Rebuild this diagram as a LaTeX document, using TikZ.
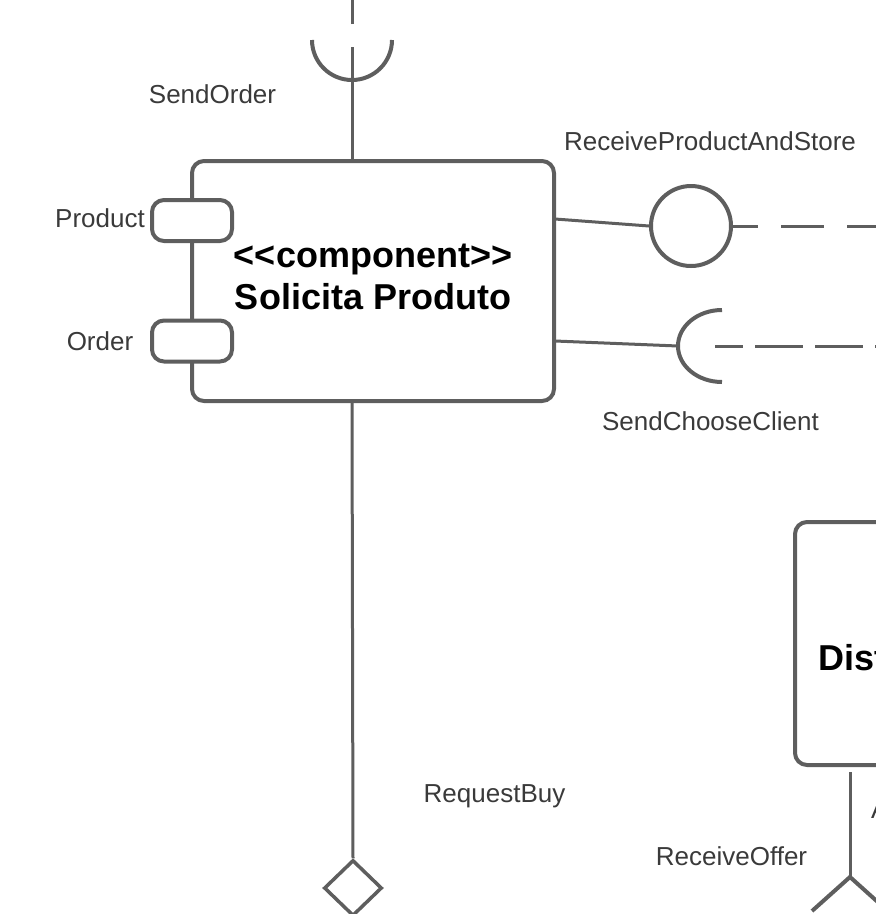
\documentclass[tikz,border=0pt]{standalone}
\usepackage{fontspec}
\setmainfont{Liberation Sans}
\usetikzlibrary{shapes.geometric}
\definecolor{lc}{HTML}{5E5E5E}
\definecolor{tc}{HTML}{3A3A3A}
\begin{document}
\begin{tikzpicture}[x=1pt,y=-1pt,
  compbox/.style={draw=lc, line width=4pt, rounded corners=12pt},
  port/.style={draw=lc, fill=white, line width=4pt, rounded corners=12pt, minimum width=80pt, minimum height=41pt, inner sep=0pt},
  conn/.style={draw=lc, line width=3pt},
  thick conn/.style={draw=lc, line width=4pt},
  dashconn/.style={draw=lc, line width=3pt, dash pattern=on 43pt off 23pt},
  lbl/.style={text=tc, font=\fontsize{26}{30}\selectfont, inner sep=0pt, anchor=base},
  ttl/.style={font=\bfseries\fontsize{36}{42}\selectfont, align=center, inner sep=0pt},
  lolli/.style={circle, draw=lc, line width=4pt, fill=white, minimum size=80pt, inner sep=0pt},
  dia/.style={diamond, draw=lc, line width=3.5pt, fill=white, minimum width=58pt, minimum height=56pt, inner sep=0pt}]
\useasboundingbox (0,0) rectangle (876,914);
\clip (0,0) rectangle (876,914);

% main component
\node[compbox, minimum width=362pt, minimum height=240pt, inner sep=0pt] (sp) at (373,281) {};
\node[ttl] (sptitle) at (373,277) {{<}{<}component{>}{>}\\Solicita Produto};

% ports
\node[port] (pprod) at (192,220.5) {};
\node[port] (pord) at (192,341) {};
\node[lbl] (lprod) at (100,227) {Product};
\node[lbl] (lord) at (100,350) {Order};

% top socket (SendOrder)
\coordinate (topIn) at (352,161);
\coordinate (topSock) at (352,47);
\coordinate (topArcL) at (312,40);
\coordinate (topDashA) at (352,24);
\coordinate (topDashB) at (352,-40);
\draw[conn] (topIn) -- (topSock);
\draw[thick conn] (topArcL) arc[start angle=180, end angle=0, radius=40];
\draw[dashconn, dash phase=19pt] (topDashA) -- (topDashB);
\node[lbl] (lso) at (212.5,103) {SendOrder};

% lollipop (ReceiveProductAndStore)
\node[lolli] (lp) at (691,226) {};
\coordinate (rp1) at (555,219);
\coordinate (rEnd1) at (890,226);
\draw[conn] (rp1) -- (lp.west);
\draw[dashconn, dash phase=18pt] (lp.east) -- (rEnd1);
\node[lbl] (lrpas) at (710,150) {ReceiveProductAndStore};

% socket (SendChooseClient)
\coordinate (rp2) at (555,341);
\coordinate (sockR) at (678,346);
\coordinate (sockTopEnd) at (722,310);
\coordinate (rDash2) at (715,346);
\coordinate (rEnd2) at (890,346);
\draw[conn] (rp2) -- (sockR);
\draw[thick conn] (sockTopEnd) arc[start angle=270, end angle=90, x radius=44, y radius=36];
\draw[dashconn, dash pattern=on 28pt off 12pt on 48pt off 12pt on 48pt off 12pt on 48pt off 12pt] (rDash2) -- (rEnd2);
\node[lbl] (lscc) at (710.5,430) {SendChooseClient};

% bottom (RequestBuy)
\node[dia] (dm) at (353,888) {};
\coordinate (botOut) at (352,401);
\draw[conn] (botOut) -- (dm.north);
\node[lbl] (lrb) at (494.5,802) {RequestBuy};

% second component (partially visible)
\draw[compbox] (795,522) rectangle (990,765);
\node[font=\bfseries\fontsize{36}{42}\selectfont, inner sep=0pt, anchor=base west] (dist) at (818,670) {Dist};

% fork (ReceiveOffer)
\coordinate (f0) at (850,772);
\coordinate (f1) at (850,877);
\coordinate (f2) at (812,911);
\coordinate (f3) at (890,913);
\draw[conn] (f0) -- (f1);
\draw[thick conn] (f2) -- (f1) -- (f3);
\node[lbl] (lro) at (731.5,865) {ReceiveOffer};
\node[lbl, anchor=base west] (la) at (871,818) {A};
\end{tikzpicture}
\end{document}
